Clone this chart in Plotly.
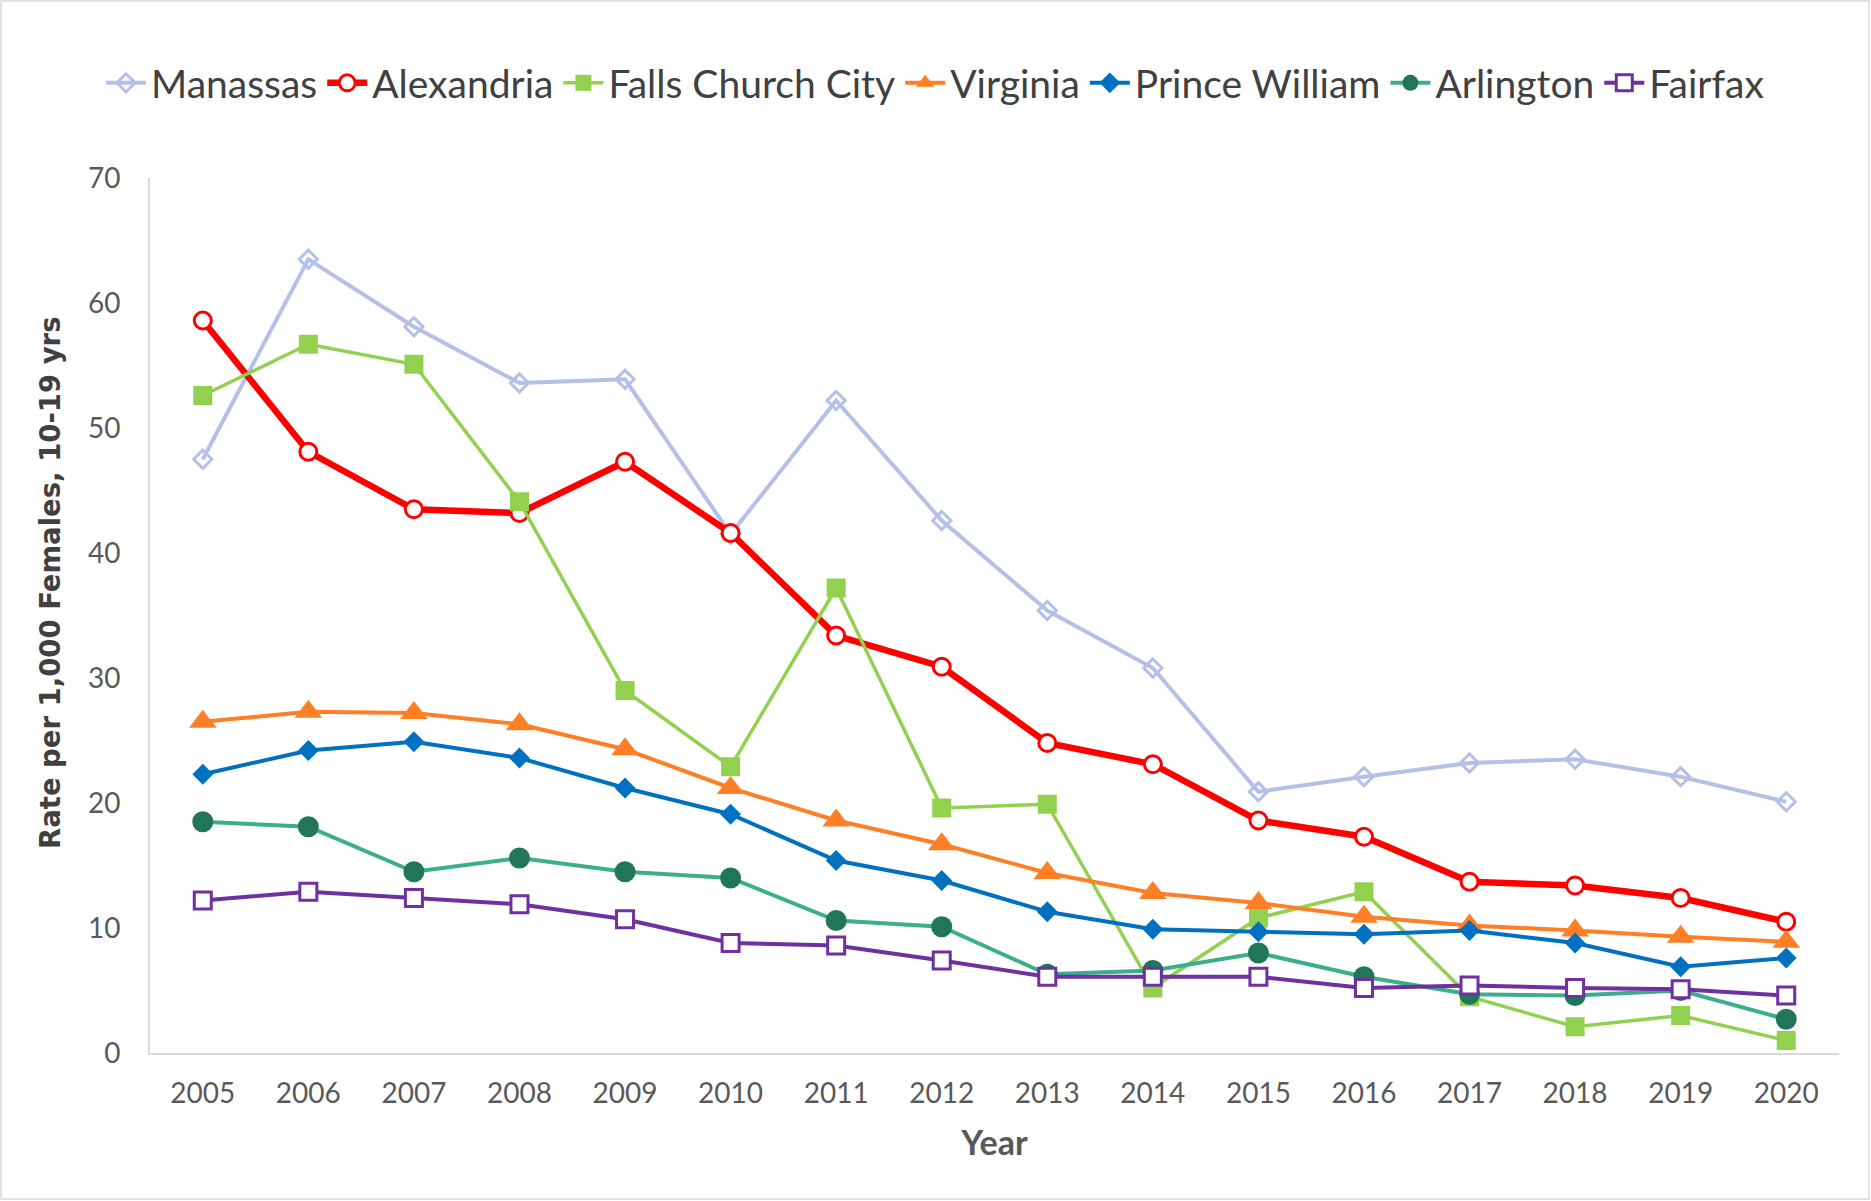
import plotly.graph_objects as go

years = list(range(2005, 2021))

manassas = [47.5, 63.5, 58.1, 53.6, 53.9, 41.5, 52.2, 42.6, 35.4, 30.8, 20.9, 22.1, 23.2, 23.5, 22.1, 20.1]
alexandria = [58.6, 48.1, 43.5, 43.2, 47.3, 41.6, 33.4, 30.9, 24.8, 23.1, 18.6, 17.3, 13.7, 13.4, 12.4, 10.5]
falls_church = [52.6, 56.7, 55.1, 44.1, 29.0, 22.9, 37.2, 19.6, 19.9, 5.2, 10.8, 12.9, 4.5, 2.1, 3.0, 1.0]
virginia = [26.5, 27.3, 27.2, 26.3, 24.3, 21.2, 18.6, 16.7, 14.4, 12.8, 12.0, 10.9, 10.2, 9.8, 9.3, 8.9]
prince_william = [22.3, 24.2, 24.9, 23.6, 21.2, 19.1, 15.4, 13.8, 11.3, 9.9, 9.7, 9.5, 9.8, 8.8, 6.9, 7.6]
arlington = [18.5, 18.1, 14.5, 15.6, 14.5, 14.0, 10.6, 10.1, 6.3, 6.6, 8.0, 6.1, 4.7, 4.6, 5.0, 2.7]
fairfax = [12.2, 12.9, 12.4, 11.9, 10.7, 8.8, 8.6, 7.4, 6.1, 6.1, 6.1, 5.2, 5.4, 5.2, 5.1, 4.6]

y_ticks = [0, 10, 20, 30, 40, 50, 60, 70]

series = [
    ("Manassas", manassas, dict(color="#B4C0E8", width=4),
     dict(symbol="diamond-open", size=14, color="#B4C0E8", line=dict(color="#B4C0E8", width=3))),
    ("Alexandria", alexandria, dict(color="#FF0000", width=6.5),
     dict(symbol="circle", size=17, color="white", line=dict(color="#FF0000", width=3))),
    ("Falls Church City", falls_church, dict(color="#92D050", width=3.5),
     dict(symbol="square", size=19, color="#92D050", line=dict(width=0))),
    ("Virginia", virginia, dict(color="#FF7F27", width=4),
     dict(symbol="triangle-up", size=24, color="#FF7F27", line=dict(width=0))),
    ("Prince William", prince_william, dict(color="#0070C0", width=4),
     dict(symbol="diamond", size=16, color="#0070C0", line=dict(width=0))),
    ("Arlington", arlington, dict(color="#3BAE8C", width=4),
     dict(symbol="circle", size=21, color="#217558", line=dict(width=0))),
    ("Fairfax", fairfax, dict(color="#7030A0", width=4),
     dict(symbol="square", size=17, color="white", line=dict(color="#7030A0", width=3))),
]

fig = go.Figure()
for name, vals, line, marker in series:
    fig.add_trace(go.Scatter(x=years, y=vals, name=name, mode="lines+markers",
                             line=line, marker=marker))

W, H = 1871, 1201
L, R, T, B = 150, 32, 178, 148
pw, ph = W - L - R, H - T - B

fig.update_layout(
    width=W, height=H,
    margin=dict(l=L, r=R, t=T, b=B),
    paper_bgcolor="white", plot_bgcolor="white",
    font=dict(family="Lato, 'Open Sans', sans-serif", color="#595959"),
    showlegend=True,
    legend=dict(orientation="h", x=(935 - L) / pw, xanchor="center", y=1 + (T - 83) / ph,
                yanchor="middle", font=dict(size=39, color="#404040"), itemwidth=40,
                traceorder="normal"),
    xaxis=dict(range=[2004.5, 2020.5], tickmode="array", tickvals=years,
               ticktext=[str(y) for y in years], showgrid=False, zeroline=False,
               showline=True, linecolor="#D9D9D9", linewidth=2,
               ticks="outside", ticklen=14, tickcolor="rgba(0,0,0,0)",
               tickfont=dict(size=28, color="#595959"),
               title=dict(text="<b>Year</b>", font=dict(size=34, color="#595959"), standoff=24)),
    yaxis=dict(range=[0, 70], tickmode="array", tickvals=y_ticks, showgrid=False, zeroline=False,
               showline=True, linecolor="#D9D9D9", linewidth=2,
               ticks="outside", ticklen=22, tickcolor="rgba(0,0,0,0)",
               tickfont=dict(size=28, color="#595959")),
    shapes=[dict(type="rect", xref="paper", yref="paper",
                 x0=(1 - L) / pw, x1=(W - 2 - L) / pw,
                 y0=(H - B - (H - 2)) / ph, y1=(H - B - 1) / ph,
                 line=dict(color="#D9D9D9", width=1.5), fillcolor="rgba(0,0,0,0)", layer="below")],
    annotations=[dict(text="<b>Rate per 1,000 Females, 10-19 yrs</b>", textangle=-90,
                      xref="paper", yref="paper", x=(50 - L) / pw, y=(H - B - 583) / ph,
                      xanchor="center", yanchor="middle", showarrow=False,
                      font=dict(family="DejaVu Sans", size=27.5, color="#404040"))],
)

fig.write_html("out.html", config={"displayModeBar": False},
               post_script="document.body.style.margin='0';document.body.style.padding='0';")
